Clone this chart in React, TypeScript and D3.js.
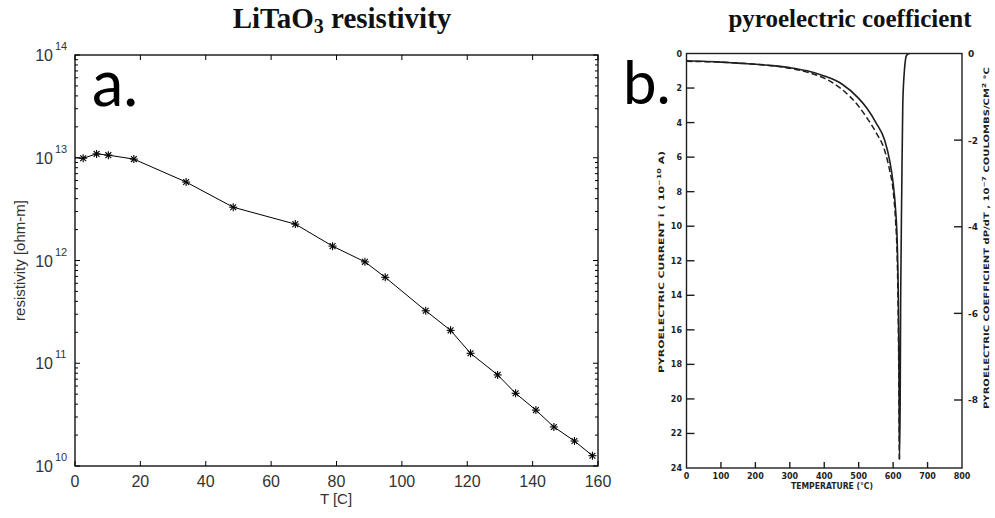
import React from 'react';
import * as d3 from 'd3';

// ---------- panel a: LiTaO3 resistivity ----------
const temperatureC = [0, 2.5, 6.6, 10.2, 18, 34, 48.4, 67.4, 78.8, 88.7, 94.9, 107.3, 114.9, 121, 129.3, 134.8, 141, 146.5, 152.8, 158.3];
const resistivity = [1.0e13, 9.9e12, 1.09e13, 1.06e13, 9.7e12, 5.8e12, 3.3e12, 2.26e12, 1.38e12, 9.7e11, 6.86e11, 3.24e11, 2.09e11, 1.25e11, 7.7e10, 5.1e10, 3.5e10, 2.4e10, 1.75e10, 1.26e10];
const xTicksA = [0, 20, 40, 60, 80, 100, 120, 140, 160];
const decadeExps = [10, 11, 12, 13, 14];

// ---------- panel b: pyroelectric current / coefficient ----------
const currentT = [0, 50, 100, 150, 200, 250, 300, 350, 400, 450, 500, 525, 550, 575, 590, 600, 607, 612, 615, 617, 618.5, 620.5, 622, 625, 628, 632, 635, 638, 642, 648];
const currentI = [0.42, 0.45, 0.5, 0.56, 0.62, 0.7, 0.82, 1.0, 1.3, 1.75, 2.6, 3.2, 4.0, 5.0, 6.2, 7.5, 9.0, 11, 14, 18, 23.5, 20, 14, 8, 3, 1.2, 0.5, 0.15, 0.05, 0];
const coeffT = [0, 100, 200, 300, 350, 400, 450, 500, 525, 550, 575, 590, 600, 607, 612, 615, 617, 618];
const coeffP = [-0.18, -0.2, -0.25, -0.34, -0.43, -0.57, -0.82, -1.22, -1.5, -1.82, -2.23, -2.7, -3.16, -3.85, -4.77, -6.15, -8.0, -9.38];
const xTicksB = [0, 100, 200, 300, 400, 500, 600, 700, 800];
const iTicks = [0, 2, 4, 6, 8, 10, 12, 14, 16, 18, 20, 22, 24];
const pTicks = [0, -2, -4, -6, -8];

export default function App() {
  // panel a scales
  const xA = d3.scaleLinear().domain([0, 160]).range([75, 598]);
  const yA = d3.scaleLog().domain([1e10, 1e14]).range([466, 55]);
  const lineA = d3.line<number>()
    .x((_, i) => xA(temperatureC[i]))
    .y((d) => yA(d));
  const minorA: number[] = [];
  for (let e = 10; e < 14; e++) for (let m = 2; m <= 9; m++) minorA.push(m * Math.pow(10, e));

  // panel b scales
  const xB = d3.scaleLinear().domain([0, 800]).range([686.5, 962]);
  const yI = d3.scaleLinear().domain([0, 24]).range([53.5, 468]);
  const yP = d3.scaleLinear().domain([0, -9.57]).range([53.5, 468]);
  const lineI = d3.line<number>()
    .x((_, i) => xB(currentT[i]))
    .y((d) => yI(d))
    .curve(d3.curveMonotoneX);
  const lineP = d3.line<number>()
    .x((_, i) => xB(coeffT[i]))
    .y((d) => yP(d))
    .curve(d3.curveMonotoneX);

  const axA = '#000';
  const txA = '#333';
  const fA = 'Liberation Sans, Arial, sans-serif';
  const inkB = '#1e1e1e';
  const fB = 'DejaVu Sans, sans-serif';

  const [l, r] = xA.range();
  const [b, t] = yA.range();

  const star = (cx: number, cy: number, k: number) => {
    const s = 4;
    const d = 2.9;
    return (
      <g key={k} stroke="#000" strokeWidth={1.1}>
        <line x1={cx - s} y1={cy} x2={cx + s} y2={cy} />
        <line x1={cx} y1={cy - s} x2={cx} y2={cy + s} />
        <line x1={cx - d} y1={cy - d} x2={cx + d} y2={cy + d} />
        <line x1={cx - d} y1={cy + d} x2={cx + d} y2={cy - d} />
      </g>
    );
  };

  return (
    <svg width={995} height={518} style={{ position: 'absolute', left: 0, top: 0, background: '#fff' }}>
      <rect x={0} y={0} width={995} height={518} fill="#fff" />

      {/* ---------------- Panel a ---------------- */}
      <text x={342} y={28} textAnchor="middle" fontFamily="Liberation Serif, Times New Roman, serif" fontWeight="bold" fontSize={29} fill="#111">
        LiTaO<tspan fontSize={20} dy={5}>3</tspan><tspan dy={-5}> resistivity</tspan>
      </text>

      <rect x={l} y={t} width={r - l} height={b - t} fill="none" stroke={axA} strokeWidth={1.3} />
      {xTicksA.map((v) => (
        <g key={'xa' + v}>
          <line x1={xA(v)} x2={xA(v)} y1={b} y2={b - 5} stroke={axA} />
          <line x1={xA(v)} x2={xA(v)} y1={t} y2={t + 5} stroke={axA} />
          <text x={xA(v)} y={487} textAnchor="middle" fontFamily={fA} fontSize={16} fill={txA}>{v}</text>
        </g>
      ))}
      {decadeExps.map((e) => {
        const y = yA(Math.pow(10, e));
        return (
          <g key={'ya' + e}>
            <line x1={l} x2={l + 5} y1={y} y2={y} stroke={axA} />
            <line x1={r} x2={r - 5} y1={y} y2={y} stroke={axA} />
            <text x={53} y={y + 6} textAnchor="end" fontFamily={fA} fontSize={16} fill={txA}>10</text>
            <text x={55} y={y - 5} textAnchor="start" fontFamily={fA} fontSize={11} fill={txA}>{e}</text>
          </g>
        );
      })}
      {minorA.map((v, i) => (
        <g key={'ma' + i}>
          <line x1={l} x2={l + 3} y1={yA(v)} y2={yA(v)} stroke={axA} />
          <line x1={r} x2={r - 3} y1={yA(v)} y2={yA(v)} stroke={axA} />
        </g>
      ))}
      <text x={336} y={504} textAnchor="middle" fontFamily={fA} fontSize={15} fill={txA}>T [C]</text>
      <text transform={`translate(25,${(t + b) / 2}) rotate(-90)`} textAnchor="middle" fontFamily={fA} fontSize={15} fill={txA}>resistivity [ohm-m]</text>

      <path d={lineA(resistivity) || ''} fill="none" stroke="#000" strokeWidth={1} />
      {resistivity.map((v, i) => (temperatureC[i] > 0 ? star(xA(temperatureC[i]), yA(v), i) : null))}

      <text x={92} y={106} fontFamily="Lato, Open Sans, sans-serif" fontSize={63} fill="#000">a.</text>

      {/* ---------------- Panel b ---------------- */}
      <text x={850} y={27} textAnchor="middle" fontFamily="Liberation Serif, Times New Roman, serif" fontWeight="bold" fontSize={25} fill="#111">
        pyroelectric coefficient
      </text>
      <text x={623} y={104} fontFamily="Lato, Open Sans, sans-serif" fontSize={60} fill="#000">b.</text>

      <rect x={xB(0)} y={yI(0)} width={xB(800) - xB(0)} height={yI(24) - yI(0)} fill="none" stroke={inkB} strokeWidth={1.4} />
      {iTicks.map((v) => (
        <g key={'yi' + v}>
          {v > 0 && v < 24 ? <line x1={xB(0)} x2={xB(0) + 8} y1={yI(v)} y2={yI(v)} stroke={inkB} strokeWidth={1.4} /> : null}
          <text x={682} y={yI(v) + 3} textAnchor="end" fontFamily={fB} fontWeight="bold" fontSize={8} fill={inkB}>{v}</text>
        </g>
      ))}
      {pTicks.map((v) => (
        <g key={'yp' + v}>
          {v < 0 ? <line x1={xB(800)} x2={xB(800) - 8} y1={yP(v)} y2={yP(v)} stroke={inkB} strokeWidth={1.4} /> : null}
          <text x={968} y={yP(v) + 3.5} textAnchor="start" fontFamily={fB} fontWeight="bold" fontSize={9} fill={inkB}>{v}</text>
        </g>
      ))}
      {xTicksB.map((v) => (
        <g key={'xb' + v}>
          {v > 0 && v < 800 ? <line x1={xB(v)} x2={xB(v)} y1={yI(24)} y2={yI(24) - 6} stroke={inkB} strokeWidth={1.4} /> : null}
          <text x={xB(v)} y={479} textAnchor="middle" fontFamily={fB} fontWeight="bold" fontSize={8} fill={inkB}>{v}</text>
        </g>
      ))}
      <text x={832} y={489} textAnchor="middle" fontFamily={fB} fontWeight="bold" fontSize={8} fill={inkB} textLength={82} lengthAdjust="spacingAndGlyphs">TEMPERATURE (°C)</text>
      <text transform={`translate(664,${262}) rotate(-90)`} textAnchor="middle" fontFamily={fB} fontWeight="bold" fontSize={7.5} fill={inkB} textLength={222} lengthAdjust="spacingAndGlyphs">
        PYROELECTRIC   CURRENT   i   ( 10<tspan fontSize={5.5} dy={-3}>−10</tspan><tspan dy={3}>   A)</tspan>
      </text>
      <text transform={`translate(989,${238}) rotate(-90)`} textAnchor="middle" fontFamily={fB} fontWeight="bold" fontSize={7.5} fill={inkB} textLength={342} lengthAdjust="spacingAndGlyphs">
        PYROELECTRIC   COEFFICIENT   dP/dT ,   10<tspan fontSize={5.5} dy={-3}>−7</tspan><tspan dy={3}>   COULOMBS/CM</tspan><tspan fontSize={5.5} dy={-3}>2</tspan><tspan dy={3}> °C</tspan>
      </text>

      <path d={lineP(coeffP) || ''} fill="none" stroke={inkB} strokeWidth={1.5} strokeDasharray="6,3" />
      <path d={lineI(currentI) || ''} fill="none" stroke={inkB} strokeWidth={1.6} />
    </svg>
  );
}
